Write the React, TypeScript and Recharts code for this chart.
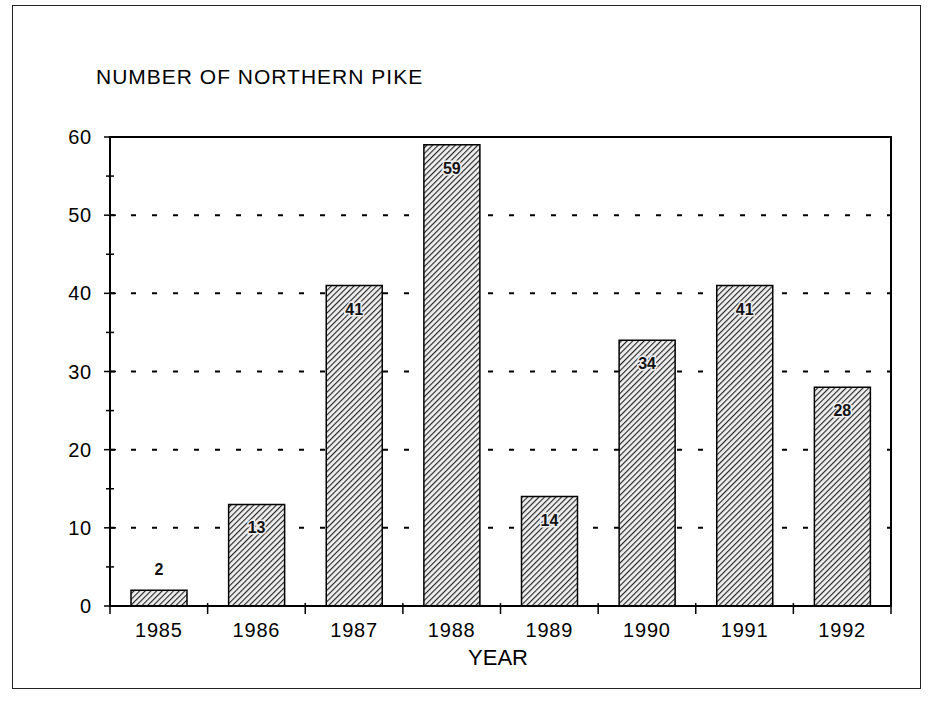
import React from 'react';
import {
  BarChart, Bar, XAxis, YAxis, CartesianGrid, ReferenceArea, LabelList,
} from 'recharts';

// data
const years = ['1985', '1986', '1987', '1988', '1989', '1990', '1991', '1992'];
const pikeCounts = [2, 13, 41, 59, 14, 34, 41, 28];
const yTicks = [0, 5, 10, 15, 20, 25, 30, 35, 40, 45, 50, 55, 60];

const rows = years.map((year, i) => ({ year, count: pikeCounts[i] }));

// layout
const W = 936;
const H = 710;
const PLOT_LEFT = 110;
const PLOT_RIGHT = 891;
const PLOT_TOP = 137;
const PLOT_BOTTOM = 606;
const X_AXIS_H = 40;
const HALF_BAND = (PLOT_RIGHT - PLOT_LEFT) / years.length / 2;
const FONT = '"Liberation Sans", Arial, sans-serif';

const YTick = (props: any) => {
  const { x, y, payload } = props;
  const major = payload.value % 10 === 0;
  const len = major ? 6 : 4;
  return (
    <g>
      <line x1={x - len} x2={x + len} y1={y} y2={y} stroke="#000" strokeWidth={1.5} />
      {major && (
        <text x={x - 18} y={y} dy={7} textAnchor="end" fontSize={20} letterSpacing={0.8} fontFamily={FONT} fill="#000">
          {payload.value}
        </text>
      )}
    </g>
  );
};

const XTick = (props: any) => {
  const { x, y, payload, index } = props;
  const last = index === years.length - 1;
  return (
    <g>
      <line x1={x - HALF_BAND} x2={x - HALF_BAND} y1={y - 3} y2={y + 8} stroke="#000" strokeWidth={1.5} />
      {last && (
        <line x1={x + HALF_BAND} x2={x + HALF_BAND} y1={y - 3} y2={y + 8} stroke="#000" strokeWidth={1.5} />
      )}
      <text x={x} y={y + 31} textAnchor="middle" fontSize={20} letterSpacing={0.8} fontFamily={FONT} fill="#000">
        {payload.value}
      </text>
    </g>
  );
};

const BarValue = (props: any) => {
  const { x, y, width, value } = props;
  const above = value < 5;
  return (
    <text
      x={x + width / 2}
      y={above ? y - 15 : y + 29}
      textAnchor="middle"
      fontSize={16}
      fontWeight="bold"
      fontFamily={FONT}
      fill="#111"
      stroke={above ? 'none' : '#eee'}
      strokeWidth={3}
      paintOrder="stroke"
    >
      {value}
    </text>
  );
};

const PikeChart: React.FC = () => {
  return (
    <div style={{ position: 'absolute', left: 0, top: 0, width: W, height: H, background: '#fff' }}>
      <div
        style={{
          position: 'absolute', left: 12, top: 5, width: 909, height: 684,
          border: '1.5px solid #222', boxSizing: 'border-box',
        }}
      />
      <svg width={W} height={H} style={{ position: 'absolute', left: 0, top: 0 }}>
        <text x={96} y={84} fontSize={21} letterSpacing={1} fontFamily={FONT} fill="#000">
          NUMBER OF NORTHERN PIKE
        </text>
        <text x={498} y={665} textAnchor="middle" fontSize={22} fontFamily={FONT} fill="#000">
          YEAR
        </text>
      </svg>
      <BarChart
        width={W}
        height={H}
        data={rows}
        margin={{
          top: PLOT_TOP,
          right: W - PLOT_RIGHT,
          bottom: H - PLOT_BOTTOM - X_AXIS_H,
          left: PLOT_LEFT - 60,
        }}
        barCategoryGap={21}
        style={{ position: 'absolute', left: 0, top: 0 }}
      >
        <defs>
          <pattern id="hatch" width="4" height="4" patternUnits="userSpaceOnUse" patternTransform="rotate(45)">
            <rect width="4" height="4" fill="#eeeeee" />
            <line x1="0" y1="0" x2="0" y2="4" stroke="#222" strokeWidth="2.2" />
          </pattern>
        </defs>
        <CartesianGrid
          vertical={false}
          horizontalValues={[10, 20, 30, 40, 50]}
          stroke="#000"
          strokeWidth={2}
          strokeDasharray="5 16"
        />
        <ReferenceArea y1={0} y2={60} fill="none" stroke="#000" strokeWidth={2} />
        <XAxis
          dataKey="year"
          height={X_AXIS_H}
          stroke="#000"
          strokeWidth={2}
          tickLine={false}
          tickSize={0}
          tickMargin={0}
          tick={<XTick />}
          interval={0}
        />
        <YAxis
          domain={[0, 60]}
          ticks={yTicks}
          width={60}
          stroke="#000"
          strokeWidth={2}
          tickLine={false}
          tickSize={0}
          tickMargin={0}
          tick={<YTick />}
          interval={0}
        />
        <Bar dataKey="count" fill="url(#hatch)" stroke="#000" strokeWidth={1.5} isAnimationActive={false}>
          <LabelList dataKey="count" content={<BarValue />} />
        </Bar>
      </BarChart>
    </div>
  );
};

export default PikeChart;
